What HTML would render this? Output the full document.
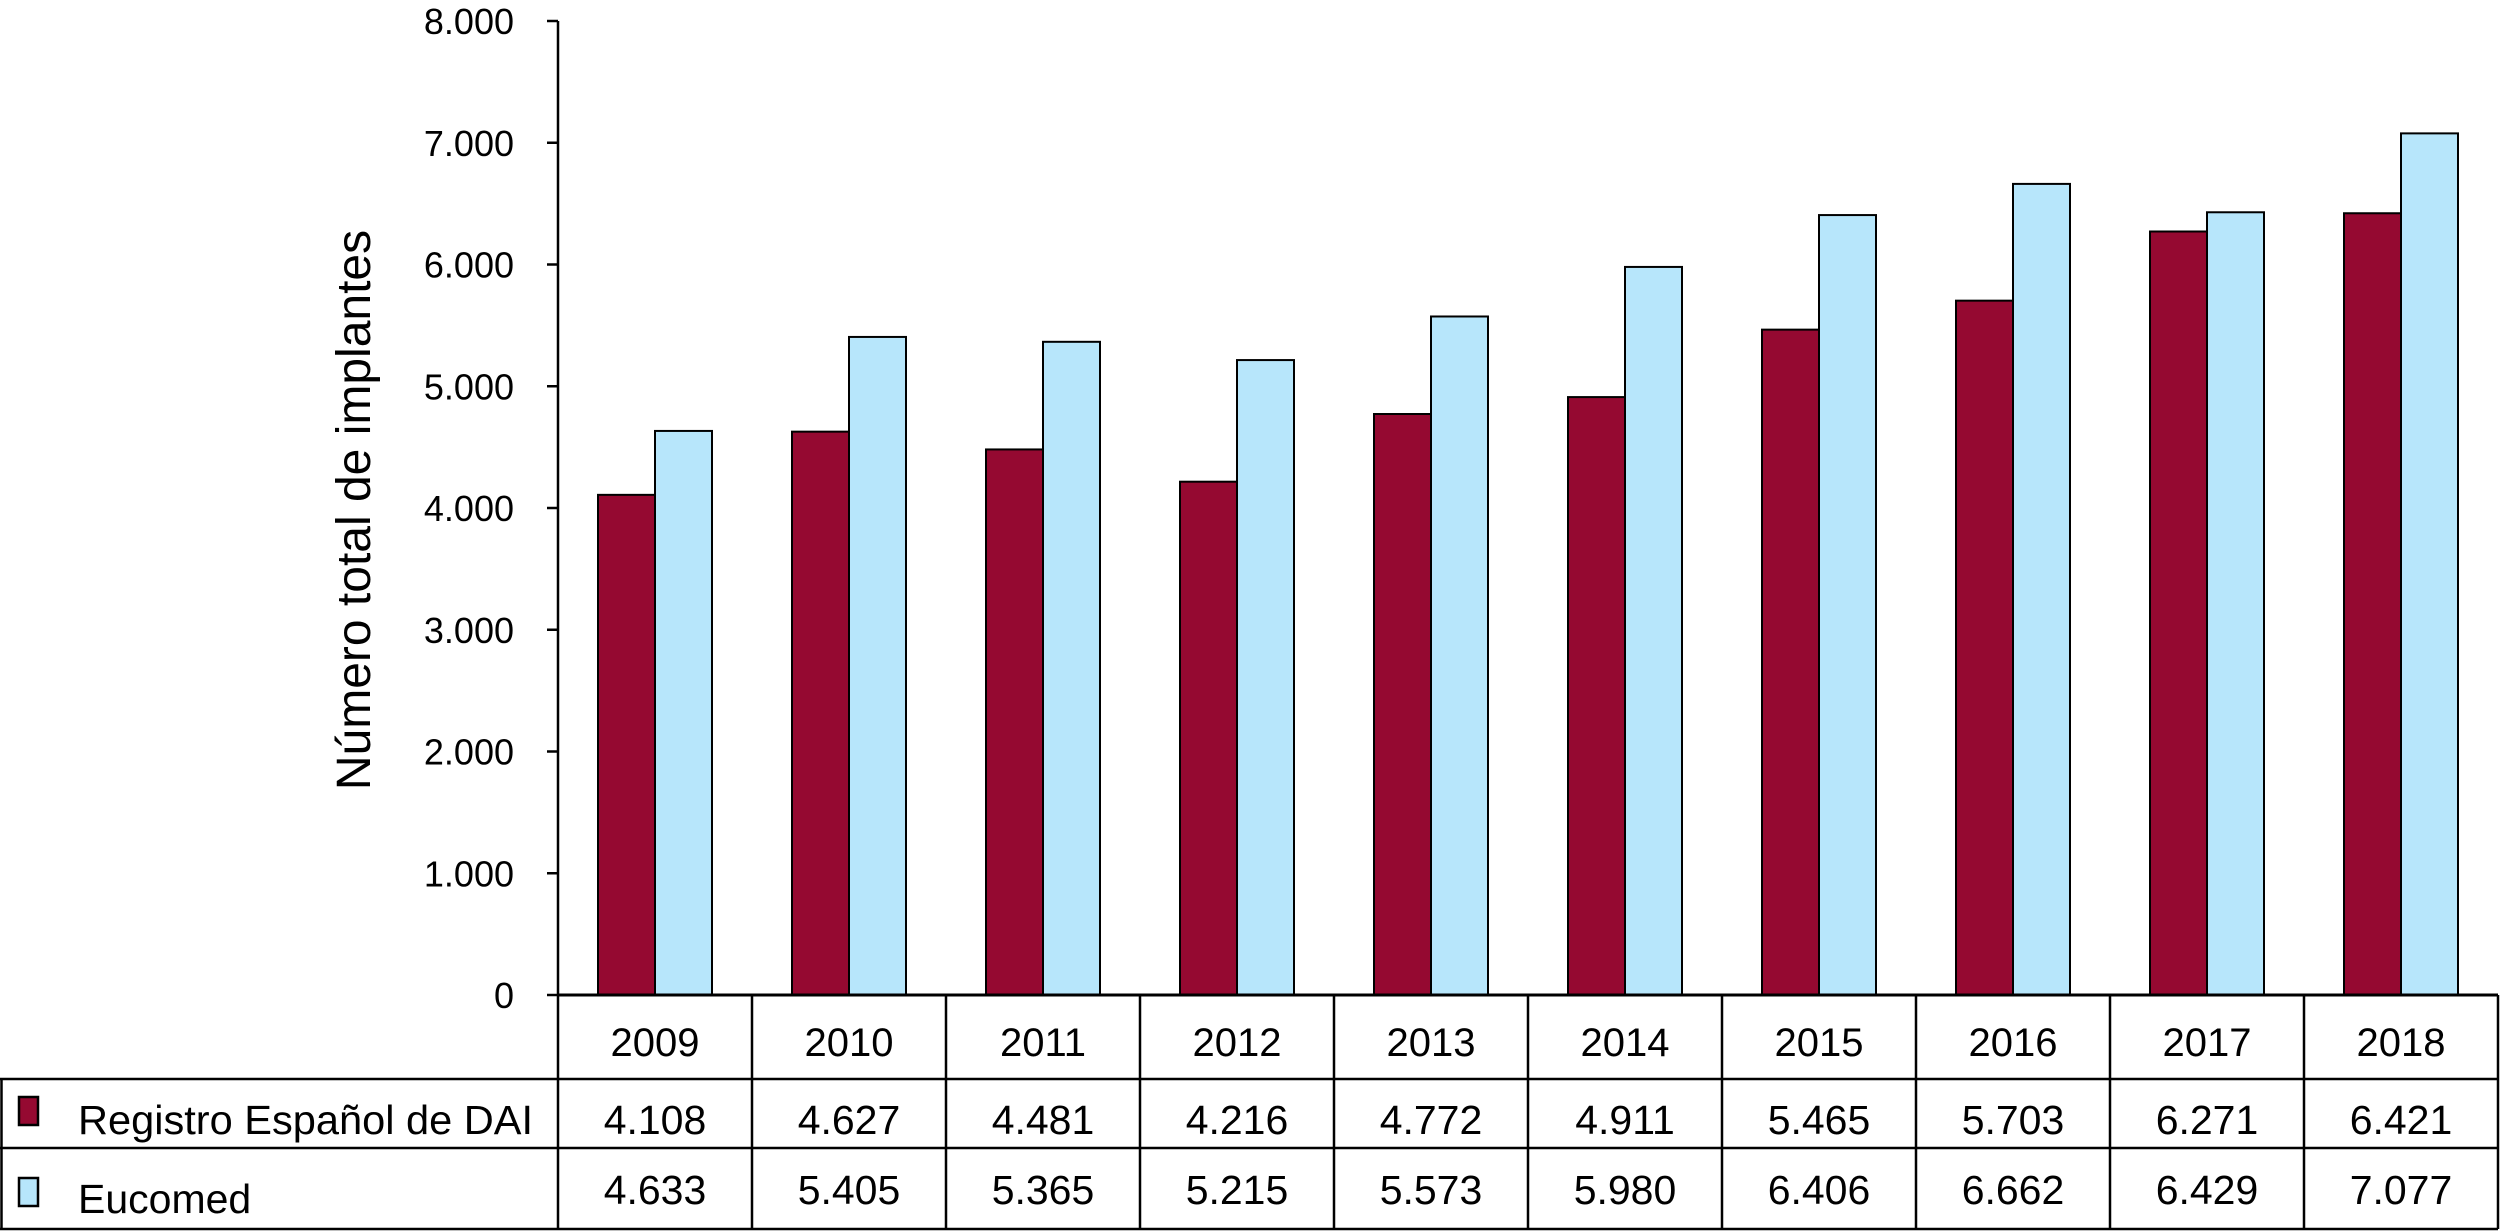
<!DOCTYPE html>
<html><head><meta charset="utf-8"><style>
html,body{margin:0;padding:0;background:#fff;}
svg{display:block;font-family:"Liberation Sans",Arial,sans-serif;}
</style></head><body>
<svg id="chart" width="2500" height="1231" viewBox="0 0 2500 1231" xmlns="http://www.w3.org/2000/svg">
<text x="0" y="0" transform="translate(370,510) rotate(-90)" text-anchor="middle" font-size="48">Número total de implantes</text>
<g id="grid"></g>
<g id="bars"></g>
<g id="table"></g>
</svg>
<script>
const years = ['2009','2010','2011','2012','2013','2014','2015','2016','2017','2018'];
const registro = [4108,4627,4481,4216,4772,4911,5465,5703,6271,6421];
const eucomed = [4633,5405,5365,5215,5573,5980,6406,6662,6429,7077];
const registroLabels = ['4.108','4.627','4.481','4.216','4.772','4.911','5.465','5.703','6.271','6.421'];
const eucomedLabels = ['4.633','5.405','5.365','5.215','5.573','5.980','6.406','6.662','6.429','7.077'];
const yTicks = [0,1000,2000,3000,4000,5000,6000,7000,8000];
const yTickLabels = ['0','1.000','2.000','3.000','4.000','5.000','6.000','7.000','8.000'];
const seriesNames = ['Registro Español de DAI','Eucomed'];

const NS='http://www.w3.org/2000/svg';
const X0=558, X1=2498, Y0=995, YTOP=21, YMAX=8000;
const colW=(X1-X0)/years.length, barW=57;
const y=v=>Y0-(v/YMAX)*(Y0-YTOP);
const xc=i=>X0+colW*(i+0.5);
function mk(tag,attrs,parent,text){const e=document.createElementNS(NS,tag);for(const k in attrs)e.setAttribute(k,attrs[k]);if(text!==undefined)e.textContent=text;parent.appendChild(e);return e;}
const grid=document.getElementById('grid'),bars=document.getElementById('bars'),tbl=document.getElementById('table');

yTicks.forEach((t,i)=>{
  const l=mk('line',{x1:X0-11,x2:X0,y1:y(t),y2:y(t),stroke:'#000','stroke-width':2.5},grid);
  
  
  const tx=mk('text',{x:514,y:y(t)+13,'text-anchor':'end','font-size':36},grid,yTickLabels[i]);
  
  
});

years.forEach((yr,i)=>{
  const r=mk('rect',{x:xc(i)-barW,y:y(registro[i]),width:barW,height:Y0-y(registro[i]),fill:'#950931',stroke:'#000','stroke-width':2},bars);
  
  
  const b=mk('rect',{x:xc(i),y:y(eucomed[i]),width:barW,height:Y0-y(eucomed[i]),fill:'#b7e6fb',stroke:'#000','stroke-width':2},bars);
  
  
});

const ax=mk('line',{x1:X0,x2:X0,y1:YTOP,y2:1229,stroke:'#000','stroke-width':2.5},tbl);


const rows=[995,1079,1148,1229];
mk('line',{x1:X0,x2:X1,y1:rows[0],y2:rows[0],stroke:'#000','stroke-width':3},tbl);
[1,2,3].forEach(r=>mk('line',{x1:0,x2:X1,y1:rows[r],y2:rows[r],stroke:'#000','stroke-width':2.5},tbl));
mk('line',{x1:1.5,x2:1.5,y1:rows[1],y2:rows[3],stroke:'#000','stroke-width':2.5},tbl);
for(let i=1;i<=years.length;i++){
  const x=i===years.length?X1:X0+colW*i;
  mk('line',{x1:x,x2:x,y1:rows[0],y2:rows[3],stroke:'#000','stroke-width':2.5},tbl);
}
years.forEach((yr,i)=>{
  const t=mk('text',{x:xc(i),y:1056,'text-anchor':'middle','font-size':40},tbl,yr);
  
  
  const a=mk('text',{x:xc(i),y:1134,'text-anchor':'middle','font-size':41},tbl,registroLabels[i]);
  
  
  const c=mk('text',{x:xc(i),y:1204,'text-anchor':'middle','font-size':41},tbl,eucomedLabels[i]);
  
  
});
const sw1=mk('rect',{x:19,y:1097,width:19,height:28,fill:'#950931',stroke:'#000','stroke-width':2.5},tbl);


const l1=mk('text',{x:78,y:1134,'font-size':41,textLength:455,lengthAdjust:'spacingAndGlyphs'},tbl,seriesNames[0]);


const sw2=mk('rect',{x:19,y:1178,width:19,height:28,fill:'#b7e6fb',stroke:'#000','stroke-width':2.5},tbl);


const l2=mk('text',{x:78,y:1213,'font-size':41},tbl,seriesNames[1]);


</script>
</body></html>
